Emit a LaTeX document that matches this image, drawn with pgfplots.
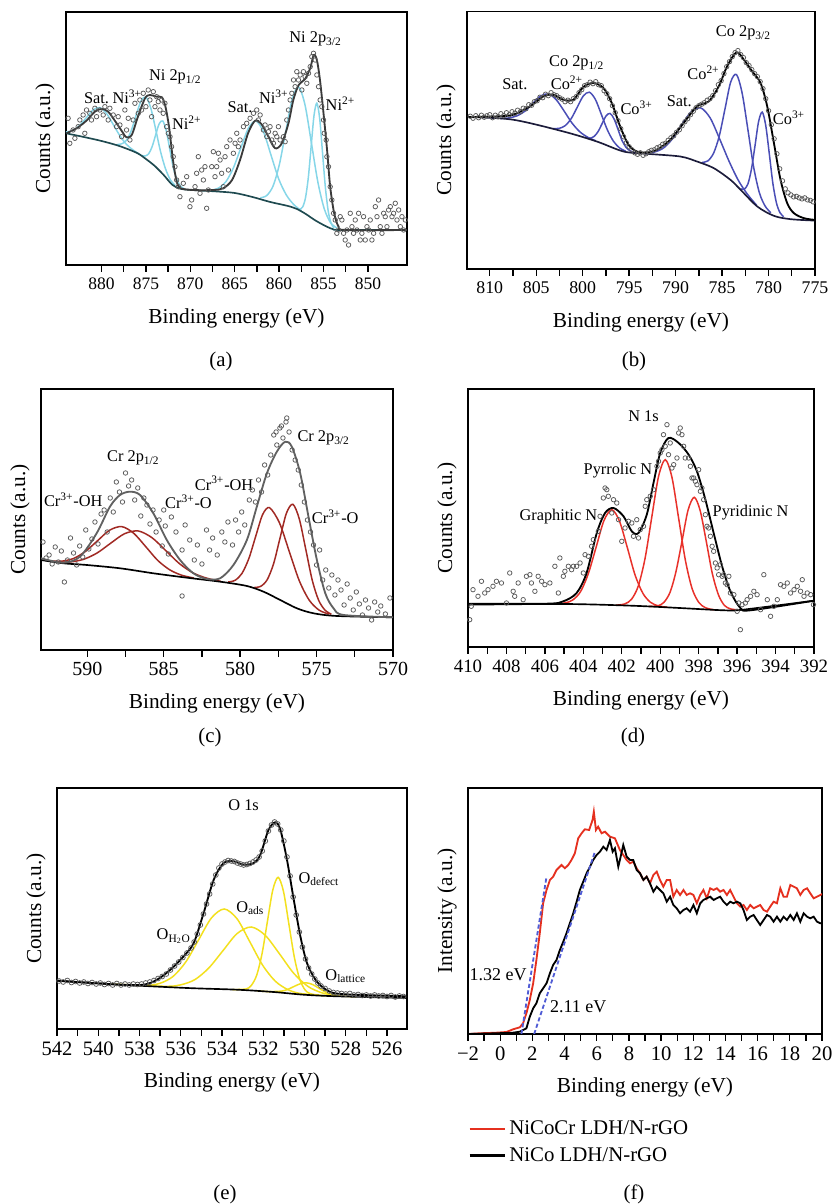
\documentclass[border=0pt]{standalone}
\usepackage{fontspec}
\setmainfont{Liberation Serif}
\usepackage{pgfplots}
\pgfplotsset{compat=1.18}
\definecolor{dotc}{HTML}{5A5A5A}
\definecolor{cyanc}{HTML}{86D6E8}
\definecolor{tealbg}{HTML}{1F4A50}
\definecolor{envg}{HTML}{3A3A3A}
\definecolor{blc}{HTML}{4A4EB6}
\definecolor{navybg}{HTML}{1C1C3A}
\definecolor{drc}{HTML}{A12A24}
\definecolor{rdc}{HTML}{E8312A}
\definecolor{ylc}{HTML}{F3E01E}
\definecolor{fred}{HTML}{E5301F}
\definecolor{dashb}{HTML}{4F5BD5}
\newcommand\ann{\fontsize{9.8}{11}\selectfont}
\newcommand\capfont{\fontsize{12.5}{14}\selectfont}

\pgfplotsset{
  xpsax/.style={
    scale only axis, anchor=south west,
    axis line style={line width=0.8pt},
    ytick=\empty, xtick pos=left, tick align=outside,
    major tick length=4pt, minor tick length=4pt,
    tick style={black, line width=0.8pt},
    minor x tick num=1, ymin=0,
    xlabel={Binding energy (eV)}, ylabel={Counts (a.u.)},
    every axis label/.append style={font=\fontsize{12.8}{15}\selectfont},
    xlabel style={at={([yshift=-31.8pt]axis description cs:0.5,0)}, anchor=center},
    ylabel style={at={([xshift=-12.6pt]axis description cs:0,0.5)}, anchor=center},
    /pgf/number format/assume math mode=true,
    /pgf/number format/1000 sep={},
  },
  dots/.style={only marks, mark=o, mark size=1.35pt, mark options={line width=0.45pt, draw=dotc}},
}

\begin{document}
\begin{tikzpicture}
\useasboundingbox (0,0) rectangle (499.8pt,722.4pt);

% ---------------- (a) Ni 2p
\begin{axis}[xpsax, at={(39.6pt,563.4pt)}, width=204.6pt, height=151.8pt,
  x dir=reverse, xmin=845.6, xmax=884, ymax=253, xtick={850,855,...,880},
  tick label style={font=\fontsize{10.5}{12}\selectfont}]
\addplot[dots] coordinates {
(883.76,146.7)(883.57,121.7)(883.2,135)(883.0,126.7)(882.63,138.3)(882.44,145)(882.07,150)(881.88,131.7)
(881.69,155)(881.32,151.7)(881.13,145)(880.75,156.7)(880.56,148.3)(880.19,155)(879.81,150)(879.62,158.3)
(879.25,145)(879.06,156.7)(878.68,150)(878.31,138.3)(878.12,148.3)(877.93,140)(877.74,128.3)(877.37,155)
(877.18,135)(876.99,146.7)(876.8,125)(876.43,145)(876.24,161.7)(875.86,151.7)(875.68,165)(875.49,155)
(875.3,171.7)(875.0,158.3)(874.74,175)(874.55,165)(874.36,148.3)(874.17,173.3)(873.98,158.3)(873.8,168.3)
(873.61,163.3)(873.42,155)(873.23,165)(873.05,151.7)(872.86,161.7)(872.67,138.3)(872.48,131.7)(872.29,128.3)
(872.11,118.3)(871.92,108.3)(871.73,98.3)(871.54,85)(871.35,78.3)(871.17,68.3)(870.79,81.7)(870.41,88.3)
(870.04,58.3)(869.85,65)(869.47,78.3)(869.29,91.7)(869.1,108.3)(868.91,71.7)(868.72,95)(868.53,85)(868.35,98.3)
(868.16,56.7)(867.97,75)(867.59,98.3)(867.41,113.3)(867.22,88.3)(867.03,98.3)(866.84,111.7)(866.65,105)
(866.47,91.7)(866.28,78.3)(866.09,108.3)(865.9,118.3)(865.71,95)(865.53,125)(865.15,111.7)(864.96,121.7)
(864.77,131.7)(864.59,118.3)(864.4,125)(864.02,138.3)(863.65,141.7)(863.27,146.7)(862.89,151.7)(862.52,155)
(862.33,145)(862.14,150)(861.77,135)(861.58,140)(861.39,128.3)(861.2,133.3)(861.02,138.3)(860.83,125)
(860.64,121.7)(860.45,131.7)(860.26,128.3)(860.08,138.3)(859.89,125)(859.51,128.3)(859.32,123.3)(859.14,145)
(858.95,155)(858.76,165)(858.57,171.7)(858.38,185)(858.2,178.3)(858.01,193.3)(857.82,185)(857.63,190)
(857.44,175)(857.26,193.3)(857.07,188.3)(856.88,181.7)(856.69,191.7)(856.5,198.3)(856.32,208.3)(856.13,211.7)
(855.94,205)(855.75,190)(855.56,178.3)(855.38,165)(855.19,158.3)(855.0,145)(854.92,131.7)(854.7,125)
(854.62,108.3)(854.44,98.3)(854.25,78.3)(854.06,65)(853.87,51.7)(853.68,45)(853.5,31.7)(853.31,35)
(853.12,48.3)(852.93,45)(852.74,31.7)(852.56,25)(852.37,35)(852.18,20)(851.99,51.7)(851.8,38.3)
(851.62,31.7)(851.43,45)(851.24,35)(851.05,51.7)(850.86,25)(850.68,31.7)(850.49,48.3)(850.3,25)
(850.11,38.3)(849.92,35)(849.74,45)(849.55,25)(849.36,31.7)(849.17,58.3)(848.98,48.3)(848.8,65)
(848.61,38.3)(848.42,31.7)(848.23,51.7)(848.05,48.3)(847.86,38.3)(847.67,55)(847.48,58.3)(847.29,48.3)
(847.11,51.7)(846.92,61.7)(846.73,45)(846.54,55)(846.35,38.3)(846.17,48.3)(845.98,35)(845.79,45)};
\addplot[cyanc, line width=0.9pt, smooth] coordinates {
(884.7,132.9)(883.95,133.0)(883.2,134.7)(882.45,139.6)(881.7,147.4)(880.95,155.0)(880.2,157.4)
(879.45,151.7)(878.7,140.8)(877.95,129.5)(877.2,120.7)(876.45,115.0)(875.7,110.6)};
\addplot[cyanc, line width=0.9pt, smooth] coordinates {
(878.3,120.4)(877.75,121.1)(877.2,124.6)(876.65,134.4)(876.1,149.9)(875.55,164.0)(875.0,168)
(874.45,156.9)(873.9,135.7)(873.35,113.3)(872.8,96.4)(872.25,85.2)(871.7,79.5)};
\addplot[cyanc, line width=0.9pt, smooth] coordinates {
(875.5,109.6)(875.1,109)(874.7,111.1)(874.3,118.3)(873.9,130.2)(873.5,141.3)(873.1,144)
(872.7,133.8)(872.3,115.1)(871.9,96.8)(871.5,85.2)(871.1,78.7)(870.7,76.4)};
\addplot[cyanc, line width=0.9pt, smooth] coordinates {
(867.7,74.7)(866.85,76.8)(866.0,83.2)(865.15,97.1)(864.3,117.3)(863.45,136.9)(862.6,144)
(861.75,132.9)(860.9,109.5)(860.05,86.1)(859.2,70.2)(858.35,60.4)(857.5,54.4)};
\addplot[cyanc, line width=0.9pt, smooth] coordinates {
(862.12,67.2)(861.4,69.4)(860.68,79)(859.96,100.9)(859.24,134.1)(858.52,166.1)(857.8,178)
(857.08,159.9)(856.36,121.8)(855.64,83.1)(854.92,56.3)(854.2,42.2)(853.48,36.9)};
\addplot[cyanc, line width=0.9pt, smooth] coordinates {
(857.67,55.7)(857.35,58)(857.03,67.2)(856.71,87.6)(856.39,118.9)(856.07,149.5)(855.75,161.8)
(855.43,146.3)(855.11,112)(854.79,77.5)(854.47,53.9)(854.15,41.8)(853.83,37.1)};
\addplot[tealbg, line width=1pt, smooth] coordinates {
(884.0,131.7)(882,128)(880,124)(878,119)(876,112)(875,106)(874,99)(873,90)(872,80)(871,76)
(869,74.5)(867,73.5)(865,72)(863,68)(861,63)(859,59)(858,56)(857,51)(856,45)(855,40)(854,36)(853,35)(845.6,35)};
\addplot[envg, line width=1.1pt, smooth] coordinates {
(883.95,131.7)(882.8,136.7)(881.7,144.3)(880.75,153.3)(880.0,156)(879.25,153.3)(878.3,141.7)(877.55,131.7)
(877.2,127.7)(876.6,130)(875.9,148.3)(875.1,166.7)(874.55,170)(873.8,168.3)(873.2,167.7)(872.8,158.3)
(872.4,138.3)(872.0,108.3)(871.65,88.3)(871.2,77.3)(869.7,75)(867.4,75)(866.3,76.7)(865.3,85)(864.4,105)
(863.5,131.7)(862.7,144.3)(862.0,141)(861.2,128.3)(860.45,116.7)(859.7,121.7)(858.95,141.7)(858.4,165)
(857.8,180)(857.1,185.7)(856.5,196.7)(856.1,210)(855.75,205)(855.4,185)(855.0,151.7)(854.6,115)
(854.25,78.3)(853.8,51.7)(853.3,38.3)(852.55,35)(845.6,35)};
\node[font=\ann] at (axis cs:880.56,166.7) {Sat.};
\node[font=\ann] at (axis cs:877.1,168) {Ni\textsuperscript{3+}};
\node[font=\ann] at (axis cs:871.7,187.7) {Ni 2p\textsubscript{1/2}};
\node[font=\ann] at (axis cs:870.4,142.3) {Ni\textsuperscript{2+}};
\node[font=\ann] at (axis cs:864.4,157.7) {Sat.};
\node[font=\ann] at (axis cs:860.6,168) {Ni\textsuperscript{3+}};
\node[font=\ann] at (axis cs:855.9,225.7) {Ni 2p\textsubscript{3/2}};
\node[font=\ann] at (axis cs:853.1,161) {Ni\textsuperscript{2+}};
\end{axis}

% ---------------- (b) Co 2p
\begin{axis}[xpsax, at={(280.2pt,561pt)}, width=208.8pt, height=154.2pt,
  x dir=reverse, xmin=775, xmax=812.45, ymax=257, xtick={775,780,...,810},
  tick label style={font=\fontsize{10.7}{12}\selectfont}]
\addplot[dots] coordinates {
(812.1,152.5)(811.8,150.5)(811.5,153)(811.2,151)(810.9,153.5)(810.6,151.5)(810.3,153)(810.0,154)(809.7,151)
(809.4,153.5)(809.1,152)(808.8,155)(808.5,153)(808.2,156)(807.9,154)(807.6,157)(807.3,155.5)(807.0,158.5)
(806.7,157)(806.4,160.5)(806.1,160)(805.8,164)(805.5,163.5)(805.2,167)(804.9,168)(804.6,171.5)(804.3,171)
(804.0,174.5)(803.7,173)(803.4,176)(803.1,174)(802.8,173)(802.5,171)(802.2,169.5)(801.9,167)(801.6,168.5)
(801.3,167)(801.0,170)(800.7,172)(800.4,176)(800.1,179)(799.8,183)(799.5,184)(799.2,186.5)(798.9,185)
(798.6,187)(798.3,184)(798.0,183)(797.7,178)(797.4,175)(797.1,170)(796.8,163)(796.5,156)(796.2,148)
(795.9,140)(795.6,132)(795.3,126)(795.0,122)(794.7,119)(794.4,116)(794.1,114.5)(793.8,116)(793.5,113.5)
(793.2,115)(792.9,117)(792.6,118.5)(792.3,119)(792.0,121)(791.7,122)(791.4,124.5)(791.1,125.5)(790.8,128.5)
(790.5,131)(790.2,133)(789.9,136.5)(789.6,139)(789.3,143)(789.0,147)(788.7,150)(788.4,154)(788.1,157.5)
(787.8,161)(787.5,163)(787.2,164.5)(786.9,166)(786.6,168.5)(786.3,170)(786.0,173)(785.7,178)(785.4,184)
(785.1,188)(784.8,195)(784.5,202)(784.2,207)(783.9,212)(783.6,216)(783.3,218)(783.0,214)(782.7,211)
(782.4,206)(782.1,203)(781.8,199)(781.5,195)(781.2,192)(780.9,187)(780.6,180)(780.3,170)(780.0,158)
(779.7,144)(779.4,130)(779.1,115)(778.8,100)(778.5,88)(778.2,80)(777.9,76)(777.6,74)(777.3,72)(777.0,72.5)
(776.7,71)(776.4,70)(776.1,71)(775.8,69)(775.5,68.5)(775.2,67)};
\addplot[blc, line width=0.9pt, smooth] coordinates {
(808.8,150.2)(807.95,150.8)(807.1,152.8)(806.25,157.3)(805.4,165.1)(804.55,172.6)(803.7,174.8)
(802.85,169)(802.0,157.7)(801.15,145.7)(800.3,136.9)(799.45,131.5)(798.6,128)};
\addplot[blc, line width=0.9pt, smooth] coordinates {
(803.18,140.2)(802.53,140.4)(801.88,143.1)(801.23,150.2)(800.58,161.6)(799.93,172.8)(799.28,176.5)
(798.63,169.2)(797.98,154)(797.33,138.6)(796.68,127.4)(796.03,120.9)(795.38,117.6)};
\addplot[blc, line width=0.9pt, smooth] coordinates {
(799.6,130.8)(799.18,130.6)(798.75,132.5)(798.33,137.4)(797.9,145.3)(797.48,152.9)(797.05,155.3)
(796.63,149.9)(796.2,139.4)(795.78,128.6)(795.35,121.6)(794.93,118.1)(794.5,116.7)};
\addplot[blc, line width=0.9pt, smooth] coordinates {
(793.27,115.7)(792.27,116.8)(791.27,121)(790.27,130.8)(789.27,145.1)(788.27,157.4)(787.27,160.7)
(786.27,150.6)(785.27,130)(784.27,108)(783.27,88.8)(782.27,74.6)(781.27,63.5)};
\addplot[blc, line width=0.9pt, smooth] coordinates {
(787.14,106.4)(786.53,107.9)(785.91,115.7)(785.3,132.8)(784.68,160.1)(784.07,186.7)(783.45,194.1)
(782.84,175.5)(782.22,139.1)(781.61,102.1)(780.99,76.2)(780.38,63)(779.76,56.1)};
\addplot[blc, line width=0.9pt, smooth] coordinates {
(782.99,80)(782.61,79.7)(782.22,84.9)(781.84,99.7)(781.45,123.4)(781.07,147.2)(780.68,156.6)
(780.3,143.2)(779.91,114.4)(779.53,85.2)(779.14,65.6)(778.76,56.1)(778.37,52.2)};
\addplot[navybg, line width=1pt, smooth] coordinates {
(812.45,151.8)(812.16,151.7)(807.48,149)(802.09,137.3)(798.49,127.3)(795.61,117.3)(793.09,115)(789.5,112.3)
(787.7,107.3)(785.9,100.7)(784.1,89)(783.0,79)(781.2,62.3)(779.4,53)(777.6,49.7)(775,48.3)};
\addplot[black, line width=1.1pt, smooth] coordinates {
(812.45,151.6)(812.16,151.7)(809.28,152.3)(807.48,154)(805.68,162.3)(804.24,172.3)(803.17,174)(802.09,169)
(801.0,169)(799.93,181.7)(798.85,185.7)(797.77,180.7)(796.87,165.7)(795.97,142.3)(795.07,124)(794.17,117.3)
(793.09,116.3)(792.01,119)(790.58,129)(789.14,145.7)(787.7,162.3)(786.44,167.3)(785.36,182.3)(784.46,202.3)
(783.45,216.3)(782.66,209)(781.76,197.3)(780.86,185.7)(780.14,162.3)(779.42,125.7)(778.71,89)(777.99,65.7)
(777.27,55.7)(776.19,50.7)(775,49)};
\node[font=\ann] at (axis cs:807.3,184) {Sat.};
\node[font=\ann] at (axis cs:800.65,205.7) {Co 2p\textsubscript{1/2}};
\node[font=\ann] at (axis cs:801.7,185.7) {Co\textsuperscript{2+}};
\node[font=\ann] at (axis cs:794.2,160.7) {Co\textsuperscript{3+}};
\node[font=\ann] at (axis cs:789.6,167.3) {Sat.};
\node[font=\ann] at (axis cs:782.7,235.7) {Co 2p\textsubscript{3/2}};
\node[font=\ann] at (axis cs:787,195.7) {Co\textsuperscript{2+}};
\node[font=\ann] at (axis cs:777.8,150.7) {Co\textsuperscript{3+}};
\end{axis}

% ---------------- (c) Cr 2p
\begin{axis}[xpsax, at={(24.6pt,332.4pt)}, width=211.2pt, height=156.6pt,
  x dir=reverse, xmin=570, xmax=593.03, ymax=261, xtick={570,575,...,590},
  tick label style={font=\fontsize{12}{13}\selectfont}]
\addplot[dots] coordinates {
(592.9,108)(592.7,92)(592.5,95)(592.3,86)(592.1,103)(591.9,88)(591.7,99)(591.5,68)(591.3,90)(591.1,112)
(590.9,97)(590.7,85)(590.5,104)(590.3,93)(590.1,120)(589.9,101)(589.7,111)(589.5,128)(589.3,106)(589.1,136)
(588.9,140)(588.7,118)(588.5,152)(588.3,138)(588.1,168)(587.9,158)(587.7,148)(587.5,177)(587.3,164)(587.1,170)
(586.9,150)(586.7,162)(586.5,134)(586.3,152)(586.1,145)(585.9,126)(585.7,140)(585.5,118)(585.3,130)(585.1,104)
(585.0,140)(584.9,124)(584.7,96)(584.5,133)(584.2,118)(583.8,100)(583.8,54)(583.6,125)(583.3,110)(583.0,90)
(582.8,105)(582.5,86)(582.2,120)(582,100)(581.8,112)(581.5,95)(581.2,118)(581,108)(580.8,128)(580.5,105)
(580.3,130)(580.1,118)(579.9,138)(579.7,125)(579.4,150)(579.2,160)(579,148)(578.8,170)(578.6,158)(578.4,185)
(578.2,175)(578.0,195)(577.8,215)(577.65,218)(577.6,205)(577.4,222)(577.3,224)(577.2,212)(577.0,228)(576.95,232)
(576.8,218)(576.6,200)(576.4,190)(576.2,180)(576.0,165)(575.8,148)(575.6,130)(575.4,118)(575.2,105)(575.0,85)
(574.8,100)(574.6,70)(574.4,80)(574.2,62)(574.0,75)(573.8,55)(573.6,70)(573.4,60)(573.2,45)(573.0,66)
(572.8,52)(572.6,40)(572.4,58)(572.2,46)(572.0,35)(571.8,50)(571.6,42)(571.4,30)(571.2,48)(571.0,38)
(570.8,44)(570.5,36)(570.2,52)};
\addplot[drc, line width=0.9pt, smooth] coordinates {
(592.46,89.2)(591.68,88.8)(590.89,91.6)(590.11,98.7)(589.32,109.4)(588.54,119.8)(587.75,123.4)
(586.97,116.8)(586.18,103.4)(585.4,89.7)(584.61,80.2)(583.83,74.8)(583.04,72)};
\addplot[drc, line width=0.9pt, smooth] coordinates {
(592.06,88.2)(591.16,88)(590.26,90.6)(589.36,97)(588.46,106.9)(587.56,116.3)(586.66,119)
(585.76,112.2)(584.86,99.3)(583.96,86.2)(583.06,76.9)(582.16,71.7)(581.26,68.6)};
\addplot[drc, line width=0.9pt, smooth] coordinates {
(580.78,68)(580.33,69.7)(579.88,76.6)(579.43,91.5)(578.98,113.8)(578.53,135.4)(578.08,142.3)
(577.43,127.2)(576.78,98.2)(576.13,69.2)(575.48,49.8)(574.83,39.8)(574.18,35.9)};
\addplot[drc, line width=0.9pt, smooth] coordinates {
(579.07,62.5)(578.65,63.7)(578.23,70.3)(577.81,86.4)(577.39,112)(576.97,136.9)(576.55,145.7)
(576.13,131)(575.71,100.9)(575.29,70.2)(574.87,49.9)(574.45,39.9)(574.03,35.7)};
\addplot[black, line width=1pt, smooth] coordinates {
(593.03,90)(591.57,86.7)(590.04,85)(587.86,81.7)(585.68,76.7)(583.49,72.3)(581.31,68.3)(579.56,64)
(578.47,58.3)(577.38,50)(576.29,41.7)(575.2,36.7)(573.67,34)(570,32.7)};
\addplot[envg!80!white, line width=1.1pt, smooth] coordinates {
(593.03,91.7)(591.57,87.3)(590.48,93.3)(589.39,116.7)(588.52,143.3)(587.86,155)(587.21,158.3)(586.55,155)
(585.68,136.7)(584.8,110)(583.93,90)(583.06,76.7)(582.18,71)(581.31,71.7)(580.44,85)(579.56,110)
(578.91,143.3)(578.25,176.7)(577.6,198.3)(577.05,208.3)(576.62,203.3)(576.07,176.7)(575.53,133.3)
(574.98,90)(574.43,56.7)(573.89,41.7)(573.23,35)(570,32.7)};
\node[font=\ann] at (axis cs:586.99,191.7) {Cr 2p\textsubscript{1/2}};
\node[font=\ann] at (axis cs:590.92,150) {Cr\textsuperscript{3+}-OH};
\node[font=\ann] at (axis cs:583.38,148.3) {Cr\textsuperscript{3+}-O};
\node[font=\ann] at (axis cs:581.05,166.7) {Cr\textsuperscript{3+}-OH};
\node[font=\ann] at (axis cs:574.54,211.7) {Cr 2p\textsubscript{3/2}};
\node[font=\ann] at (axis cs:573.78,133.3) {Cr\textsuperscript{3+}-O};
\end{axis}

% ---------------- (d) N 1s
\begin{axis}[xpsax, at={(280.8pt,334.2pt)}, width=207.6pt, height=154.8pt,
  x dir=reverse, xmin=392, xmax=410, ymax=258, xtick={392,394,...,410},
  tick label style={font=\fontsize{11.3}{13}\selectfont}]
\addplot[dots] coordinates {
(409.91,27.3)(409.83,40.7)(409.74,57.3)(409.48,50.7)(409.3,65.7)(409.13,54)(408.96,57.3)(408.7,60.7)
(408.52,65.7)(408.26,64)(408.0,44)(407.83,74)(407.65,55.7)(407.57,50.7)(407.39,64)(407.13,47.3)
(406.96,70.7)(406.78,72.3)(406.7,64)(406.52,55.7)(406.35,70.7)(406.17,65.7)(406.0,62.3)(405.74,64)
(405.48,80.7)(405.3,54)(405.22,89)(405.04,70.7)(404.96,75.7)(404.78,80.7)(404.61,77.3)(404.52,80.7)
(404.35,80.7)(404.17,84)(404.0,74)(403.91,92.3)(403.74,90.7)(403.57,100.7)(403.48,107.3)(403.22,115.7)
(403.13,130.7)(402.96,149)(402.87,159)(402.78,157.3)(402.7,150.7)(402.52,134)(402.43,147.3)(402.26,144)
(402.17,127.3)(402.0,105.7)(401.83,119)(401.65,125.7)(401.48,124)(401.39,110.7)(401.22,127.3)(401.13,109)
(401.04,117.3)(400.87,120.7)(400.78,140.7)(400.7,147.3)(400.52,150.7)(400.35,157.3)(400.17,180.7)(400.09,185.7)
(400.0,194)(399.91,197.3)(399.83,212.3)(399.74,200.7)(399.65,222.3)(399.57,192.3)(399.48,204)(399.39,179)
(399.3,182.3)(399.13,189)(399.04,214)(398.96,219)(398.87,212.3)(398.78,200.7)(398.7,189)(398.52,189)
(398.43,180.7)(398.35,169)(398.26,169)(398.17,165.7)(398.09,162.3)(398.0,177.3)(397.91,155.7)(397.83,159)
(397.74,147.3)(397.65,132.3)(397.57,120.7)(397.48,119)(397.39,110.7)(397.3,100.7)(397.22,95.7)(397.13,84)
(397.04,79)(396.96,72.3)(396.87,82.3)(396.78,70.7)(396.7,72.3)(396.61,64)(396.52,62.3)(396.43,70.7)
(396.35,54)(396.17,52.3)(396.0,35.7)(395.91,44)(395.83,17.3)(395.74,42.3)(395.57,44)(395.48,47.3)
(395.3,50.7)(395.13,55.7)(394.96,52.3)(394.78,37.3)(394.61,72.3)(394.43,47.3)(394.26,30.7)(394.09,40.7)
(393.91,47.3)(393.74,62.3)(393.57,60.7)(393.39,64)(393.22,54)(393.04,57.3)(392.87,60.7)(392.7,55.7)
(392.61,67.3)(392.52,50.7)(392.35,54)(392.17,52.3)(392.03,42.3)};
\addplot[rdc, line width=0.9pt, smooth] coordinates {
(405.5,43)(404.95,44.1)(404.55,47)(404.14,55.5)(403.74,73.4)(403.33,100.1)(402.93,126.3)(402.52,137.3)
(402.12,125.9)(401.71,99.3)(401.31,72.1)(400.9,53.6)(400.5,44.6)(400.09,41.1)(399.6,39.6)};
\addplot[rdc, line width=0.9pt, smooth] coordinates {
(402.3,41.8)(401.84,43.1)(401.49,47.8)(401.14,61)(400.79,88.5)(400.44,129.8)(400.09,170.3)(399.74,187.3)
(399.39,169.7)(399.04,128.5)(398.69,86.6)(398.34,58.3)(397.99,44.5)(397.64,39.2)(397.2,37.2)};
\addplot[rdc, line width=0.9pt, smooth] coordinates {
(400.6,40.5)(400.12,41.2)(399.81,44.6)(399.49,54.6)(399.18,75.4)(398.86,106.5)(398.55,137)(398.23,149.7)
(397.92,136.3)(397.6,105.2)(397.29,73.5)(396.97,52.1)(396.66,41.6)(396.34,38.1)(395.9,37)};
\addplot[black, line width=1pt, smooth] coordinates {
(410,42.3)(405,43)(401.5,41.3)(399,39)(396.7,36.7)(395.7,37.3)(392,46.3)};
\addplot[black, line width=1.1pt, smooth] coordinates {
(410,43.3)(405.91,43.3)(405.04,45.7)(404.35,54)(403.83,74)(403.3,114)(402.87,134)(402.43,139)(401.91,130.7)
(401.48,115.7)(401.13,114)(400.7,132.3)(400.35,164)(400.0,194)(399.57,209)(399.04,204)(398.52,192.3)
(398.09,175.7)(397.65,147.3)(397.22,114)(396.78,80.7)(396.35,55.7)(395.83,39)(395.3,36.7)(392,46.3)};
\node[font=\ann] at (axis cs:400.87,230.7) {N 1s};
\node[font=\ann] at (axis cs:402.2,176.7) {Pyrrolic N};
\node[font=\ann] at (axis cs:405.3,130.7) {Graphitic N};
\node[font=\ann] at (axis cs:395.3,134) {Pyridinic N};
\end{axis}

% ---------------- (e) O 1s
\begin{axis}[xpsax, at={(34.2pt,105pt)}, width=210pt, height=144.6pt,
  x dir=reverse, xmin=525.03, xmax=542, ymax=241, xtick={526,528,...,542},
  tick label style={font=\fontsize{12.3}{14}\selectfont}]
\addplot[dots, mark size=1.45pt] coordinates {
(541.9,48)(541.7,47)(541.5,48.5)(541.3,46.5)(541.1,47.5)(540.9,46)(540.7,47)(540.5,45.5)(540.3,46.5)
(540.1,45)(539.9,46)(539.7,44.5)(539.5,45.5)(539.3,44)(539.1,45.5)(538.9,44)(538.7,45)(538.5,44)(538.3,45)
(538.1,44.5)(537.9,45)(537.7,46)(537.5,47)(537.3,48.5)(537.1,50.5)(536.9,52.5)(536.7,55)(536.5,59)(536.3,63)
(536.1,67)(535.9,71.5)(535.7,76)(535.5,81)(535.35,87)(535.2,95)(535.05,104)(534.9,115)(534.75,125)
(534.6,135)(534.45,145)(534.3,154)(534.15,161)(534.0,165)(533.85,167)(533.7,168.5)(533.55,168)(533.4,167.5)
(533.25,166)(533.1,165)(532.95,164)(532.8,164.5)(532.65,165.5)(532.5,167)(532.35,169)(532.2,172)(532.05,178)
(531.9,188)(531.75,198)(531.6,204)(531.45,207)(531.3,205)(531.15,199)(531.0,188)(530.85,172)(530.7,153)
(530.55,132)(530.4,114)(530.25,97)(530.1,82)(529.95,70)(529.8,61)(529.65,55)(529.5,50)(529.35,46)(529.2,43)
(529.0,40.5)(528.8,38)(528.6,36.5)(528.4,36)(528.2,35.5)(528.0,35)(527.8,35.5)(527.6,34)(527.4,34.5)
(527.2,33.5)(527.0,34)(526.8,33)(526.6,34)(526.4,33)(526.2,33.5)(526.0,32.5)(525.8,33.5)(525.6,32)
(525.4,33)(525.2,32.5)};
\addplot[ylc, line width=0.9pt, smooth] coordinates {
(539.5,45)(537.61,43.8)(536.99,45.8)(536.37,52.6)(535.75,67.2)(535.13,89.3)(534.51,111.1)(533.89,120)
(533.27,110.2)(532.65,87.2)(532.03,63.8)(531.41,47.7)(530.79,39.2)(530.17,35.4)(529,33.3)};
\addplot[ylc, line width=0.9pt, smooth] coordinates {
(538.5,44)(536.69,42.7)(536.01,44.1)(535.32,49.3)(534.64,61)(533.95,78.4)(533.27,95.4)(532.58,102)
(531.9,93.6)(531.21,75.1)(530.53,55.9)(529.84,42.7)(529.16,36.2)(528.47,33.4)(527.5,32.2)};
\addplot[ylc, line width=0.9pt, smooth] coordinates {
(533.5,39.4)(532.84,40)(532.58,43.5)(532.32,53.7)(532.06,75.1)(531.8,107.2)(531.54,138.7)(531.28,151.7)
(531.02,137.7)(530.76,105.4)(530.5,72.6)(530.24,50.3)(529.98,39.3)(529.72,35.3)(529.2,33.5)};
\addplot[ylc, line width=0.9pt, smooth] coordinates {
(532.3,38.1)(531.71,37.4)(531.11,37.9)(530.81,39.6)(530.51,42.5)(530.21,45.2)(529.91,46.2)
(529.61,44.5)(529.31,40.9)(529.01,37.2)(528.71,34.6)(528.11,32.6)};
\addplot[black, line width=1pt, smooth] coordinates {
(542,48.3)(538.93,44.3)(535.7,41)(533.27,39.3)(531.5,37)(530.04,34.3)(528.42,32.7)(525.03,31)};
\addplot[black, line width=1.1pt, smooth] coordinates {
(542,48.3)(538.93,44.3)(537.8,44.3)(537.15,49.3)(536.5,59.3)(535.86,72.7)(535.37,86)(534.89,116)(534.4,149.3)
(533.92,166)(533.43,167.7)(532.95,164.3)(532.46,166)(532.14,174.3)(531.74,199.3)(531.41,206.7)(531.17,199.3)
(530.85,169.3)(530.52,129.3)(530.2,92.7)(529.88,66)(529.47,49.3)(529.07,41)(528.59,36)(527.62,34.3)(525.03,32.7)};
\node[font=\ann] at (axis cs:532.95,224.3) {O 1s};
\node[font=\ann] at (axis cs:536.34,92.7) {O\textsubscript{H\textsubscript{2}O}};
\node[font=\ann] at (axis cs:532.63,121) {O\textsubscript{ads}};
\node[font=\ann] at (axis cs:529.3,150) {O\textsubscript{defect}};
\node[font=\ann] at (axis cs:528.0,52.7) {O\textsubscript{lattice}};
\end{axis}

% ---------------- (f) VB
\begin{axis}[xpsax, at={(280.8pt,102pt)}, width=212.4pt, height=147.6pt,
  xmin=-2, xmax=20, ymax=246, xtick={-2,0,...,20},
  xticklabels={−2,0,2,4,6,8,10,12,14,16,18,20},
  ylabel={Intensity (a.u.)},
  tick label style={font=\fontsize{12.4}{14}\selectfont},
  legend style={at={([yshift=-50pt]axis description cs:0,0)}, anchor=north west, draw=none, fill=none,
    font=\fontsize{12.5}{14}\selectfont, row sep=2pt, inner sep=0pt},
  legend cell align=left,
  legend image code/.code={\draw[#1, line width=1.6pt] (0pt,0pt) -- (21pt,0pt);}]
\addplot[fred, line width=1.1pt] coordinates {
(-2,0)(-1.27,0.7)(-0.24,1.3)(0.39,2)(0.80,4.7)(1.22,6.7)(1.42,10.7)(1.63,20.7)(1.84,34)(2.05,50.7)(2.25,74)
(2.46,100.7)(2.67,130.7)(2.88,144)(3.09,154)(3.29,157.3)(3.50,164)(3.81,169)(4.02,165.7)(4.23,169)(4.43,174)
(4.64,180.7)(4.85,195.7)(5.06,200.7)(5.26,204.7)(5.53,204)(5.74,214)(5.82,222.3)(5.95,204)(6.09,207.3)(6.30,200.7)
(6.51,202.3)(6.82,197.3)(7.13,195.7)(7.44,184)(7.65,179)(7.86,174)(8.07,170.7)(8.27,172.3)(8.48,165.7)(8.69,160.7)
(8.90,154)(9.10,157.3)(9.31,150.7)(9.52,159)(9.73,162.3)(9.93,154)(10.14,147.3)(10.35,154)(10.56,154)(10.76,137.3)
(10.97,144)(11.18,139)(11.39,144)(11.59,139)(11.80,140.7)(12.01,139)(12.22,130.7)(12.43,139)(12.63,144)(12.84,135.7)
(13.05,145.7)(13.26,144)(13.46,145.7)(13.67,142.3)(13.88,144)(14.09,139)(14.29,144)(14.50,137.3)(14.71,130.7)
(14.92,127.3)(15.12,129)(15.33,124)(15.54,129)(15.75,125.7)(15.95,127.3)(16.16,129)(16.37,124)(16.58,122.3)
(16.78,127.3)(16.99,132.3)(17.20,130.7)(17.41,145.7)(17.61,137.3)(17.82,137.3)(18.03,149)(18.24,147.3)(18.44,145.7)
(18.65,139)(18.86,144)(19.07,145.7)(19.27,140.7)(19.48,135.7)(19.69,137.3)(19.90,139)(20,140)};
\addlegendentry{NiCoCr LDH/N-rGO}
\addplot[black, line width=1.1pt] coordinates {
(-2,0)(-0.24,0.7)(0.80,1.3)(1.22,2.3)(1.63,5.7)(1.84,17.3)(2.05,25.7)(2.25,30.7)(2.46,40.7)(2.67,45.7)(2.88,50.7)
(3.09,60.7)(3.29,69)(3.50,74)(3.71,84)(3.92,92.3)(4.12,100.7)(4.33,110.7)(4.54,120.7)(4.75,132.3)(4.95,144)
(5.16,152.3)(5.37,160.7)(5.58,167.3)(5.78,174)(5.99,179)(6.20,182.3)(6.41,187.3)(6.61,184)(6.82,194)(6.99,182.3)
(7.13,185.7)(7.34,167.3)(7.44,174)(7.65,189)(7.86,177.3)(8.07,174)(8.27,174)(8.48,164)(8.69,160.7)(8.90,154)
(9.10,157.3)(9.31,150.7)(9.52,142.3)(9.73,147.3)(9.93,144)(10.14,140.7)(10.35,132.3)(10.56,137.3)(10.76,129)
(10.97,125.7)(11.18,120.7)(11.39,124)(11.59,125.7)(11.80,122.3)(12.01,129)(12.22,120.7)(12.43,130.7)(12.63,134)
(12.84,135.7)(13.05,137.3)(13.26,134)(13.46,135.7)(13.67,137.3)(13.88,132.3)(14.09,129)(14.29,132.3)(14.50,130.7)
(14.71,132.3)(14.92,130.7)(15.12,124)(15.33,114)(15.54,117.3)(15.75,119)(15.95,114)(16.16,109)(16.37,114)
(16.58,119)(16.78,117.3)(16.99,112.3)(17.20,117.3)(17.41,112.3)(17.61,117.3)(17.82,114)(18.03,119)(18.24,114)
(18.44,120.7)(18.65,112.3)(18.86,120.7)(19.07,117.3)(19.27,115.7)(19.48,117.3)(19.69,112.3)(19.90,110.7)(20,111)};
\addlegendentry{NiCo LDH/N-rGO}
\addplot[dashb, line width=1.1pt, dash pattern=on 2.5pt off 1.5pt, forget plot] coordinates {(1.32,0)(2.88,157.3)};
\addplot[dashb, line width=1.1pt, dash pattern=on 2.5pt off 1.5pt, forget plot] coordinates {(2.11,0)(5.89,182.3)};
\node[font=\fontsize{10.8}{12}\selectfont] at (axis cs:-0.13,59) {1.32 eV};
\node[font=\fontsize{10.8}{12}\selectfont] at (axis cs:4.85,27.3) {2.11 eV};
\end{axis}

\node[font=\capfont] at (132.6pt,505.2pt) {(a)};
\node[font=\capfont] at (380.4pt,505.2pt) {(b)};
\node[font=\capfont] at (126pt,280.2pt) {(c)};
\node[font=\capfont] at (379.8pt,280.2pt) {(d)};
\node[font=\capfont] at (135pt,6pt) {(e)};
\node[font=\capfont] at (380.4pt,6pt) {(f)};
\end{tikzpicture}
\end{document}
